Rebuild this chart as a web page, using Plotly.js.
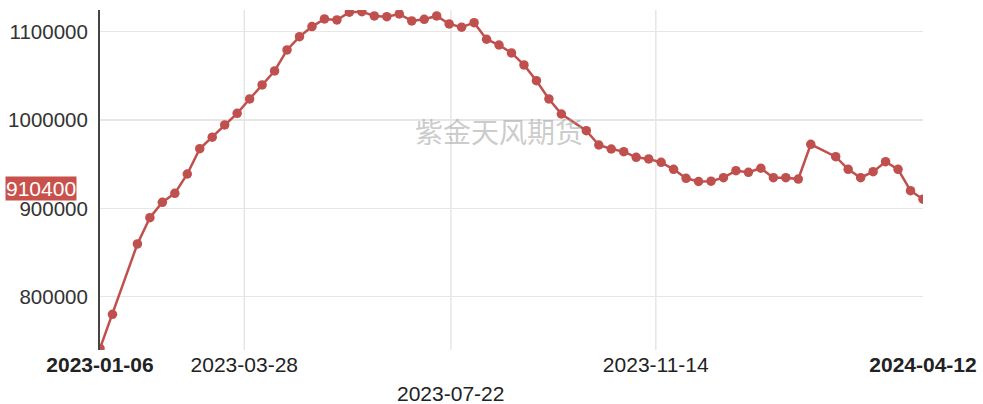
<!DOCTYPE html>
<html>
<head>
<meta charset="utf-8">
<script src="https://cdn.plot.ly/plotly-3.0.1.min.js"></script>
<style>html,body{margin:0;padding:0;background:#fff;}#chart{width:983px;height:404px;}</style>
</head>
<body>
<div id="chart"></div>
<script>
const dates = [
 "2023-01-06","2023-01-13","2023-01-27","2023-02-03","2023-02-10","2023-02-17","2023-02-24",
 "2023-03-03","2023-03-10","2023-03-17","2023-03-24","2023-03-31","2023-04-07","2023-04-14",
 "2023-04-21","2023-04-28","2023-05-05","2023-05-12","2023-05-19","2023-05-26","2023-06-02",
 "2023-06-09","2023-06-16","2023-06-23","2023-06-30","2023-07-07","2023-07-14","2023-07-21",
 "2023-07-28","2023-08-04","2023-08-11","2023-08-18","2023-08-25","2023-09-01","2023-09-08",
 "2023-09-15","2023-09-22","2023-10-06","2023-10-13","2023-10-20","2023-10-27","2023-11-03",
 "2023-11-10","2023-11-17","2023-11-24","2023-12-01","2023-12-08","2023-12-15","2023-12-22",
 "2023-12-29","2024-01-05","2024-01-12","2024-01-19","2024-01-26","2024-02-02","2024-02-09",
 "2024-02-23","2024-03-01","2024-03-08","2024-03-15","2024-03-22","2024-03-29","2024-04-05",
 "2024-04-12"
];
const values = [
 741500,780100,859700,889400,906900,917000,938900,
 967500,980500,994400,1007600,1023800,1039700,1055500,
 1079300,1094300,1105700,1114400,1113200,1122000,1122600,
 1117800,1117000,1120000,1112100,1114000,1117800,1108700,
 1105000,1110200,1091400,1084900,1075900,1062300,1044500,
 1023800,1006800,987900,971700,967200,964200,957800,
 955900,952100,944200,934000,930400,930800,934700,
 942600,940800,945400,934700,934700,933200,972500,
 958500,944200,934700,941500,952800,944200,920000,
 910400
];
const xTickVals = ["2023-01-06","2023-03-28","2023-07-22","2023-11-14","2024-04-12"];
const xTickText = ["<b>2023-01-06</b>","2023-03-28","","2023-11-14","<b>2024-04-12</b>"];
const staggeredTick = "2023-07-22";
const gridDates = ["2023-03-28","2023-07-22","2023-11-14"];
const yTickVals = [800000, 900000, 1000000, 1100000];
const watermark = "紫金天风期货";

const lastVal = values[values.length - 1];

const trace = {
  x: dates, y: values, type: "scatter", mode: "lines+markers",
  line: {color: "#c0504d", width: 2.5},
  marker: {color: "#c0504d", size: 9.5},
  hoverinfo: "x+y"
};

const shapes = gridDates.map(d => ({
  type: "line", xref: "x", yref: "paper", x0: d, x1: d, y0: 0, y1: 1,
  line: {color: "#e6e6e6", width: 1.5}, layer: "below"
}));

const layout = {
  width: 983, height: 404,
  margin: {l: 100, r: 60, t: 10, b: 54},
  paper_bgcolor: "#fff", plot_bgcolor: "#fff",
  showlegend: false,
  font: {family: "Liberation Sans, Arial, sans-serif", color: "#333"},
  xaxis: {
    type: "date", range: [dates[0], dates[dates.length - 1]],
    tickvals: xTickVals, ticktext: xTickText,
    showgrid: false, zeroline: false, showline: false, ticks: "",
    tickfont: {size: 21, color: "#222"}
  },
  yaxis: {
    range: [739700, 1124500],
    tickvals: yTickVals, tickformat: "d",
    showgrid: true, gridcolor: "#e6e6e6", gridwidth: 1.5,
    zeroline: false, showline: true, linecolor: "#444", linewidth: 2,
    ticks: "", ticklabelstandoff: 6,
    tickfont: {size: 20.5, color: "#333"}
  },
  shapes: shapes,
  annotations: [
    {text: staggeredTick, xref: "x", yref: "paper", x: staggeredTick, y: 0,
     yanchor: "middle", xanchor: "center", yshift: -43, showarrow: false,
     font: {size: 21, color: "#222"}},
    {text: watermark, xref: "paper", yref: "paper", x: 0.485, y: 0.645,
     xanchor: "center", yanchor: "middle", showarrow: false,
     font: {size: 28, color: "rgba(160,160,160,0.55)", family: "Noto Sans CJK SC, sans-serif"}},
    {text: String(lastVal), xref: "paper", yref: "y", x: 0, y: lastVal,
     xanchor: "right", yanchor: "middle", xshift: -23, yshift: 11, showarrow: false,
     bgcolor: "#c9514c", borderpad: 0,
     font: {size: 21, color: "#fff"}}
  ]
};

Plotly.newPlot("chart", [trace], layout, {displayModeBar: false, staticPlot: true});
</script>
</body>
</html>
